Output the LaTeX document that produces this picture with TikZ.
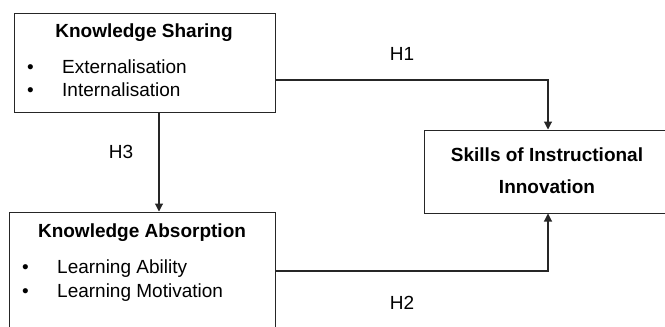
\documentclass[tikz,border=0pt]{standalone}
\usepackage{fontspec}
\setmainfont{Liberation Sans}
\usetikzlibrary{positioning,arrows.meta}

\begin{document}
\begin{tikzpicture}[x=1pt,y=-1pt,
	box/.style={draw=black!85,line width=1pt,inner sep=0pt},
	link/.style={-{Triangle[length=8pt,width=8pt]},line width=1.1pt,draw=black!85},
	ttl/.style={font=\fontsize{19}{22}\selectfont\bfseries,anchor=base,inner sep=0pt},
	itm/.style={font=\fontsize{19}{22}\selectfont,anchor=base west,inner sep=0pt},
	hyp/.style={font=\fontsize{19}{22}\selectfont,anchor=base,inner sep=0pt}]
	\useasboundingbox (0,0) rectangle (665,327);
	\clip (0,0) rectangle (665,327);
	% boxes
	\node[box,minimum width=261pt,minimum height=99pt] (ks) at (144.5,62.5) {};
	\node[box,minimum width=266pt,minimum height=138pt] (ka) at (142,281) {};
	\node[box,minimum width=250pt,minimum height=83pt] (sii) at (549,171.5) {};
	% texts
	\node[ttl] (kst) at (144,37) {Knowledge Sharing};
	\node[itm] (ks1) at (27,73) {\makebox[35pt][l]{\textbullet}Externalisation};
	\node[itm] (ks2) at (27,96) {\makebox[35pt][l]{\textbullet}Internalisation};
	\node[ttl] (kat) at (142,237) {Knowledge Absorption};
	\node[itm] (ka1) at (22,273) {\makebox[35pt][l]{\textbullet}Learning Ability};
	\node[itm] (ka2) at (22,297) {\makebox[35pt][l]{\textbullet}Learning Motivation};
	\node[ttl] (siit) at (547,161) {Skills of Instructional};
	\node[ttl] (siib) at (547,193) {Innovation};
	% hypotheses
	\coordinate (h1turn) at (548,80);
	\coordinate (h2turn) at (548,271);
	\coordinate (h3col) at (159,0);
	\draw[link] (ks.east |- h1turn) -- (h1turn) -- (sii.north -| h1turn);
	\draw[link] (ka.east |- h2turn) -- (h2turn) -- (sii.south -| h2turn);
	\draw[link] (ks.south -| h3col) -- (ka.north -| h3col);
	\node[hyp] (h1) at (402,60) {H1};
	\node[hyp] (h2) at (402,309) {H2};
	\node[hyp] (h3) at (121,158) {H3};
\end{tikzpicture}
\end{document}
